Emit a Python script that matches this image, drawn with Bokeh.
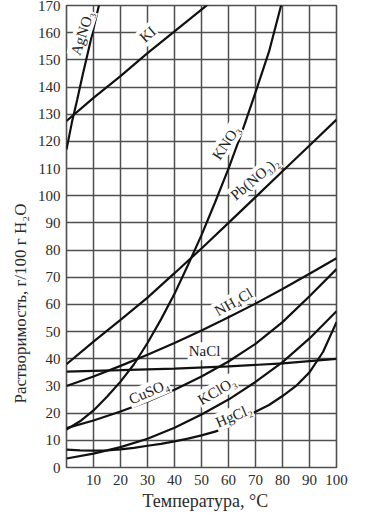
import math
from bokeh.plotting import figure
from bokeh.models import Label, FixedTicker, Range1d, Title
from bokeh.embed import file_html
from bokeh.resources import INLINE

# ---- data (temperature, °C -> g / 100 g H2O) ----
agno3_t = [0, 2, 4, 6, 8, 10, 12, 13]
agno3_s = [117, 127, 135.5, 144.5, 153, 161.5, 170, 174]

ki_t = [0, 10, 20, 30, 40, 50, 55]
ki_s = [127.5, 136, 144, 152.5, 160.5, 168.5, 172.5]

kno3_t = [0, 5, 10, 15, 20, 25, 30, 35, 40, 45, 50, 55, 60, 65, 70, 75, 80]
kno3_s = [14, 17, 21, 26, 31.6, 38, 45.8, 54.5, 63.9, 74.5, 85.5, 97.5, 110, 123.5, 138, 153, 172]

pb_t = [0, 10, 20, 30, 40, 50, 60, 70, 80, 90, 100]
pb_s = [38, 46.3, 54.3, 62.5, 71.5, 80.6, 90, 99.5, 109, 118.5, 128]

nh4cl_t = [0, 10, 20, 30, 40, 50, 60, 70, 80, 90, 100]
nh4cl_s = [30, 33.5, 37.4, 41.5, 45.8, 50.4, 55.3, 60.3, 65.7, 71.3, 77]

nacl_t = [0, 20, 40, 60, 80, 100]
nacl_s = [35.3, 35.8, 36.4, 37.2, 38.3, 40]

cuso4_t = [0, 10, 20, 30, 40, 50, 60, 70, 80, 90, 100]
cuso4_s = [14.5, 17.3, 20.6, 24.3, 28.6, 33.5, 39, 45.5, 53.5, 63, 73]

kclo3_t = [0, 10, 20, 30, 40, 50, 60, 70, 80, 90, 100]
kclo3_s = [3.3, 5.1, 7.5, 10.6, 14.6, 19.5, 25, 31.5, 38.8, 47.5, 57.5]

hgcl2_t = [0, 5, 10, 15, 20, 25, 30, 35, 40, 45, 50, 55, 60, 65, 70, 75, 80, 85, 90, 95, 100]
hgcl2_s = [6.6, 6.3, 6.2, 6.3, 6.7, 7.2, 8, 8.7, 9.6, 10.6, 11.8, 13.2, 15, 17.5, 20.5, 23, 26.3, 30, 35, 42.5, 53.5]

x_ticks = [0, 10, 20, 30, 40, 50, 60, 70, 80, 90, 100]
y_ticks = list(range(0, 171, 10))

series = [
    (agno3_t, agno3_s), (ki_t, ki_s), (kno3_t, kno3_s), (pb_t, pb_s),
    (nh4cl_t, nh4cl_s), (nacl_t, nacl_s), (cuso4_t, cuso4_s),
    (kclo3_t, kclo3_s), (hgcl2_t, hgcl2_s),
]

FONT = "Liberation Serif"
GRID = "#4f4f4f"

p = figure(frame_width=270, frame_height=462,
           min_border_left=66, min_border_right=30,
           min_border_top=5, min_border_bottom=57,
           x_range=Range1d(0, 100), y_range=Range1d(0, 170),
           output_backend="svg", toolbar_location=None)

p.background_fill_color = "white"
p.border_fill_color = "white"
p.outline_line_color = GRID
p.outline_line_width = 1.6

p.xaxis.ticker = FixedTicker(ticks=x_ticks)
p.yaxis.ticker = FixedTicker(ticks=y_ticks)
p.xaxis.major_label_overrides = {0: ""}
for ax in (p.xaxis[0], p.yaxis[0]):
    ax.axis_line_color = None
    ax.major_tick_line_color = None
    ax.minor_tick_line_color = None
    ax.major_tick_out = 0
    ax.major_tick_in = 0
    ax.major_label_text_font = FONT
    ax.major_label_text_font_size = "15px"
    ax.major_label_text_color = "#2b2b2b"
p.yaxis.major_label_standoff = 6
p.xaxis.major_label_standoff = 7

for g in (p.xgrid[0], p.ygrid[0]):
    g.grid_line_color = GRID
    g.grid_line_width = 1.5
    g.grid_line_alpha = 1.0

for t, s in series:
    p.line(t, s, line_color="#111111", line_width=2.2)

labels = [
    ("AgNO₃", 5.8, 159.8, 72),
    ("KI", 30.1, 159.4, 41),
    ("KNO₃", 59.1, 119.6, 56),
    ("Pb(NO₃)₂", 69.7, 106.3, 40),
    ("NH₄Cl", 61.9, 60.9, 30),
    ("NaCl", 51.1, 42.8, 0),
    ("CuSO₄", 30.5, 27.9, 23),
    ("KClO₃", 55.7, 28.2, 30),
    ("HgCl₂", 61.9, 19.0, 23),
]
for txt, lx, ly, ang in labels:
    p.add_layout(Label(x=lx, y=ly, text=txt, angle=math.radians(ang),
                       text_align="center", text_baseline="middle",
                       text_font=FONT, text_font_size="15px", text_color="#222222",
                       background_fill_color="white", padding=1))

ytitle = Title(text="Растворимость, г/100 г H₂O", align="left", offset=64,
               text_font=FONT, text_font_size="17px", text_font_style="normal",
               text_color="#2b2b2b", standoff=10)
p.add_layout(ytitle, "left")

xtitle = Title(text="Температура, °C", align="left", offset=76,
               text_font=FONT, text_font_size="18px", text_font_style="normal",
               text_color="#2b2b2b", standoff=3)
p.add_layout(xtitle, "below")

open("out.html", "w").write(file_html(p, INLINE))
